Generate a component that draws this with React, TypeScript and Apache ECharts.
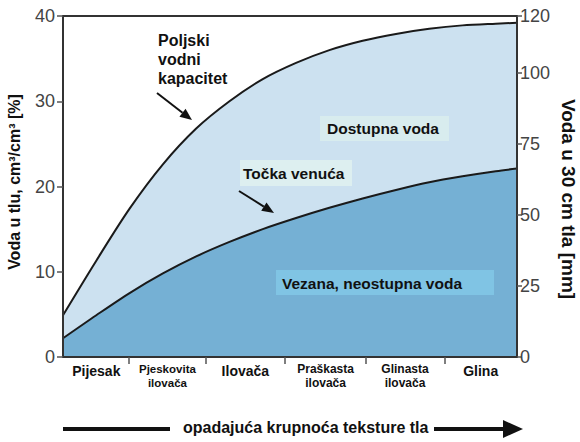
import { useEffect, useRef } from "react";
import * as echarts from "echarts";

// Texture classes along the bottom (coarse -> fine)
const textureClasses = [
  ["Pijesak"],
  ["Pjeskovita", "ilovača"],
  ["Ilovača"],
  ["Praškasta", "ilovača"],
  ["Glinasta", "ilovača"],
  ["Glina"],
];
// class boundaries and label centres on the 0..6 texture scale
const classBoundaries = [0.87, 1.89, 2.93, 4.0, 5.04];
const classCentres = [0.44, 1.38, 2.41, 3.47, 4.52, 5.52];

// Field capacity curve (Poljski vodni kapacitet), % by volume
const fieldCapacity: [number, number][] = [
  [0, 4.9], [0.44, 11.3], [0.88, 17.4], [1.32, 22.6], [1.76, 26.8],
  [2.2, 30.0], [2.64, 32.6], [3.08, 34.5], [3.52, 36.0], [3.96, 37.1],
  [4.4, 37.9], [4.84, 38.5], [5.28, 38.9], [5.72, 39.1], [6, 39.2],
];
// Wilting point curve (Točka venuća), % by volume
const wiltingPoint: [number, number][] = [
  [0, 2.2], [0.44, 4.9], [0.88, 7.5], [1.32, 9.8], [1.76, 11.8],
  [2.2, 13.5], [2.64, 15.0], [3.08, 16.3], [3.52, 17.5], [3.96, 18.6],
  [4.4, 19.6], [4.84, 20.5], [5.28, 21.2], [5.72, 21.8], [6, 22.1],
];

const rightTicks = [0, 25, 50, 75, 100, 120];

const FONT = "'Liberation Sans', Arial, Helvetica, sans-serif";

function arrowHead(x1: number, y1: number, x2: number, y2: number, len: number, half: number) {
  const dx = x2 - x1;
  const dy = y2 - y1;
  const l = Math.hypot(dx, dy);
  const ux = dx / l;
  const uy = dy / l;
  const bx = x2 - ux * len;
  const by = y2 - uy * len;
  return {
    base: [bx, by],
    points: [
      [x2, y2],
      [bx - uy * half, by + ux * half],
      [bx + uy * half, by - ux * half],
    ],
  };
}

function arrow(x1: number, y1: number, x2: number, y2: number, width: number, len: number, half: number) {
  const h = arrowHead(x1, y1, x2, y2, len, half);
  return [
    {
      type: "line",
      shape: { x1, y1, x2: h.base[0], y2: h.base[1] },
      style: { stroke: "#111", lineWidth: width },
      z: 20,
    },
    {
      type: "polygon",
      shape: { points: h.points },
      style: { fill: "#111" },
      z: 20,
    },
  ];
}

function boxText(text: string, x: number, y: number, size: number, boxX: number, boxY: number, boxW: number, boxH: number, bg: string) {
  return [
    {
      type: "rect",
      shape: { x: boxX, y: boxY, width: boxW, height: boxH },
      style: { fill: bg },
      z: 15,
    },
    {
      type: "text",
      x,
      y,
      style: {
        text,
        font: `bold ${size}px ${FONT}`,
        fill: "#111",
        align: "left",
        verticalAlign: "middle",
      },
      z: 16,
    },
  ];
}

export default function App() {
  const ref = useRef<HTMLDivElement>(null);

  useEffect(() => {
    if (!ref.current) return;
    const chart = echarts.init(ref.current, null, { renderer: "svg" });

    chart.setOption({
      animation: false,
      grid: {
        left: 63,
        right: 63,
        top: 16,
        bottom: 85,
        show: true,
        borderColor: "#333",
        borderWidth: 2,
        outerBoundsMode: "none",
      },
      xAxis: {
        type: "value",
        min: 0,
        max: 6,
        z: 10,
        axisLine: { show: true, lineStyle: { color: "#333", width: 2 } },
        axisTick: {
          show: true,
          customValues: classBoundaries,
          length: 7,
          lineStyle: { color: "#555", width: 1.5 },
        },
        splitLine: { show: false },
        axisLabel: {
          customValues: classCentres,
          margin: 5,
          formatter: (v: number) => {
            let best = 0;
            classCentres.forEach((c, i) => {
              if (Math.abs(c - v) < Math.abs(classCentres[best] - v)) best = i;
            });
            const parts = textureClasses[best];
            if (parts.length === 1) return `{b|${parts[0]}}`;
            const style = best === 1 ? "xs" : "s";
            return parts.map((p) => `{${style}|${p}}`).join("\n");
          },
          rich: {
            b: { fontFamily: FONT, fontWeight: "bold", fontSize: 14, lineHeight: 18, color: "#111" },
            s: { fontFamily: FONT, fontWeight: "bold", fontSize: 12, lineHeight: 14, color: "#111" },
            xs: { fontFamily: FONT, fontWeight: "bold", fontSize: 11.5, lineHeight: 14, color: "#111" },
          },
        },
      },
      yAxis: [
        {
          type: "value",
          min: 0,
          max: 40,
          interval: 10,
          position: "left",
          z: 10,
          axisLine: { show: true, lineStyle: { color: "#333", width: 2 } },
          axisTick: { show: true, length: 6, lineStyle: { color: "#555", width: 1.5 } },
          splitLine: { show: false },
          axisLabel: { fontFamily: FONT, fontSize: 18, color: "#444", margin: 8 },
        },
        {
          type: "value",
          min: 0,
          max: 120,
          position: "right",
          z: 10,
          axisLine: { show: true, lineStyle: { color: "#333", width: 2 } },
          axisTick: {
            show: true,
            customValues: rightTicks,
            length: 5,
            lineStyle: { color: "#555", width: 1.5 },
          },
          splitLine: { show: false },
          axisLabel: {
            customValues: rightTicks,
            fontFamily: FONT,
            fontSize: 18,
            color: "#444",
            margin: 3,
          },
        },
      ],
      series: [
        {
          name: "Poljski vodni kapacitet",
          type: "line",
          data: fieldCapacity,
          smooth: 0.3,
          symbol: "none",
          lineStyle: { color: "#1a1a1a", width: 2 },
          areaStyle: { color: "#cce1f0", opacity: 1 },
          z: 2,
        },
        {
          name: "Točka venuća",
          type: "line",
          data: wiltingPoint,
          smooth: 0.3,
          symbol: "none",
          lineStyle: { color: "#1a1a1a", width: 2 },
          areaStyle: { color: "#75b0d4", opacity: 1 },
          z: 3,
        },
      ],
      graphic: [
        // axis names
        {
          type: "text",
          x: 14,
          y: 182,
          rotation: Math.PI / 2,
          style: {
            text: "Voda u tlu, cm³/cm³ [%]",
            font: `bold 16px ${FONT}`,
            fill: "#111",
            align: "center",
            verticalAlign: "middle",
          },
        },
        {
          type: "text",
          x: 568,
          y: 199,
          rotation: -Math.PI / 2,
          style: {
            text: "Voda u 30 cm tla [mm]",
            font: `bold 19px ${FONT}`,
            fill: "#111",
            align: "center",
            verticalAlign: "middle",
          },
        },
        // annotations
        {
          type: "text",
          x: 158,
          y: 31,
          style: {
            text: "Poljski\nvodni\nkapacitet",
            font: `bold 16px ${FONT}`,
            lineHeight: 19,
            fill: "#111",
            align: "left",
            verticalAlign: "top",
          },
          z: 16,
        },
        ...arrow(157, 93, 192, 120, 2, 12, 5),
        ...boxText("Točka venuća", 243, 173, 15.5, 240, 160, 112, 26, "#ddeff0"),
        ...arrow(239, 191, 274, 213, 2, 12, 5),
        ...boxText("Dostupna voda", 327, 128, 15.5, 320, 116, 129, 25, "#d8ecee"),
        ...boxText("Vezana, neostupna voda", 282, 283, 15.5, 276, 270, 218, 25, "#80c4e4"),
        // bottom direction arrow
        {
          type: "line",
          shape: { x1: 63, y1: 429, x2: 170, y2: 429 },
          style: { stroke: "#111", lineWidth: 4 },
        },
        {
          type: "text",
          x: 183,
          y: 427,
          style: {
            text: "opadajuća krupnoća teksture tla",
            font: `bold 16px ${FONT}`,
            fill: "#111",
            align: "left",
            verticalAlign: "middle",
          },
        },
        {
          type: "line",
          shape: { x1: 434, y1: 429, x2: 508, y2: 429 },
          style: { stroke: "#111", lineWidth: 4 },
        },
        {
          type: "polygon",
          shape: { points: [[523, 429], [503, 420], [503, 438]] },
          style: { fill: "#111" },
        },
      ],
    });

    return () => chart.dispose();
  }, []);

  return (
    <div
      ref={ref}
      style={{ position: "absolute", left: 0, top: 0, width: 580, height: 442, background: "#fff" }}
    />
  );
}
